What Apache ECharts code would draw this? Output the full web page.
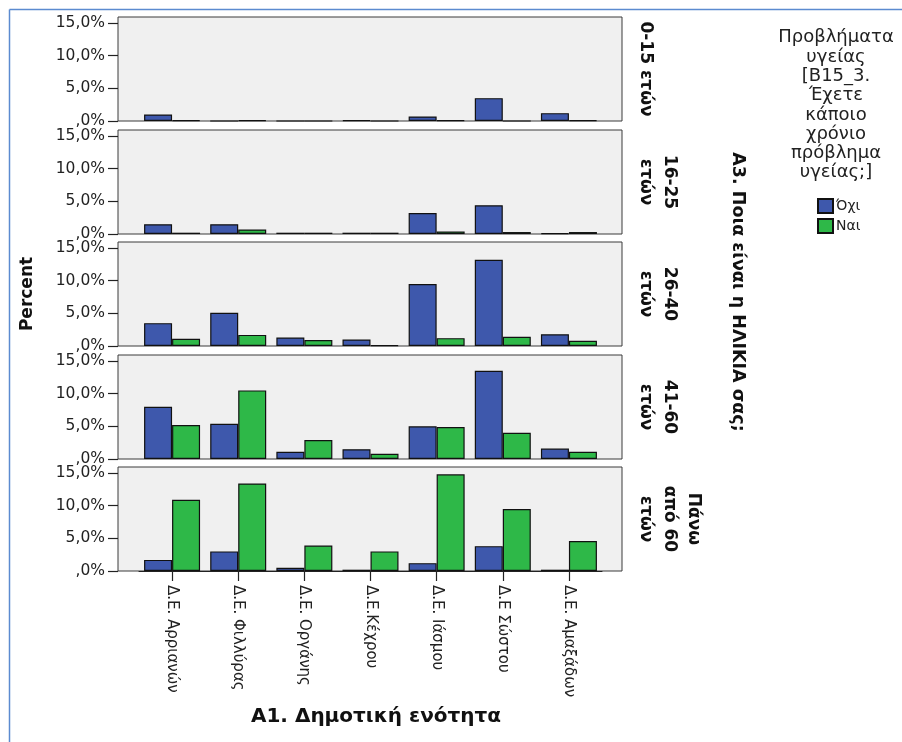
<!DOCTYPE html>
<html>
<head>
<meta charset="utf-8">
<script src="https://cdn.jsdelivr.net/npm/echarts@6/dist/echarts.min.js"></script>
<style>
  html, body { margin: 0; padding: 0; background: #fff; }
  #chart { width: 902px; height: 742px; }
</style>
</head>
<body>
<div id="chart"></div>
<script>
// ---- data ----
const categories = ['Δ.Ε. Αρριανών', 'Δ.Ε. Φιλλύρας', 'Δ.Ε. Οργάνης', 'Δ.Ε.Κέχρου', 'Δ.Ε. Ιάσμου', 'Δ.Ε Σώστου', 'Δ.Ε. Αμαξάδων'];
const ageGroups = ['0-15 ετών', '16-25\nετών', '26-40\nετών', '41-60\nετών', 'Πάνω\nαπό 60\nετών'];
const seriesNames = ['Όχι', 'Ναι'];
const yMin = 0, yMaxTick = 15, yStep = 5;

const no_0_15  = [1.0, 0.0, 0.0, 0.1, 0.7, 3.5, 1.2];
const yes_0_15 = [0.1, 0.1, 0.0, 0.0, 0.1, 0.0, 0.1];
const no_16_25  = [1.5, 1.5, 0.2, 0.2, 3.2, 4.4, 0.1];
const yes_16_25 = [0.2, 0.7, 0.2, 0.2, 0.4, 0.3, 0.3];
const no_26_40  = [3.5, 5.1, 1.3, 1.0, 9.5, 13.2, 1.8];
const yes_26_40 = [1.1, 1.7, 0.9, 0.1, 1.2, 1.4, 0.8];
const no_41_60  = [8.0, 5.4, 1.1, 1.5, 5.0, 13.5, 1.6];
const yes_41_60 = [5.2, 10.5, 2.9, 0.8, 4.9, 4.0, 1.1];
const no_60p  = [1.7, 3.0, 0.5, 0.2, 1.2, 3.8, 0.2];
const yes_60p = [10.9, 13.4, 3.9, 3.0, 14.8, 9.5, 4.6];

const panelNo  = [no_0_15, no_16_25, no_26_40, no_41_60, no_60p];
const panelYes = [yes_0_15, yes_16_25, yes_26_40, yes_41_60, yes_60p];

// ---- layout ----
const FONT = 'DejaVu Sans';
const tops = [17, 130, 242, 355, 467];
const PH = 104;          // panel (frame) height
const headroom = 6;      // space between 15% and panel top
const bgLeft = 118, bgWidth = 504;
const barLeft = 139, barWidth = 463;
const colors = ['#3e58ac', '#2eb848'];

const grids = [], xAxes = [], yAxes = [], series = [], graphics = [];

tops.forEach((top, i) => {
  grids.push({ left: bgLeft, width: bgWidth, top: top, height: PH, show: true,
               backgroundColor: '#f0f0f0', borderColor: '#3a3a3a', borderWidth: 1 });
  grids.push({ left: barLeft, width: barWidth, top: top + headroom, height: PH - headroom });
  const gi = 2 * i + 1;
  const last = i === tops.length - 1;
  xAxes.push({
    type: 'category', gridIndex: gi, data: categories, boundaryGap: true,
    axisLine: { show: last, lineStyle: { color: '#222', width: 1 } },
    axisTick: { show: last, alignWithLabel: true, length: 10, lineStyle: { color: '#222', width: 1.2 } },
    axisLabel: { show: last, rotate: -90, margin: 14, fontFamily: FONT, fontSize: 15, color: '#222' }
  });
  yAxes.push({
    type: 'value', gridIndex: gi, min: yMin, max: yMaxTick, interval: yStep, offset: barLeft - bgLeft,
    axisLine: { show: false },
    splitLine: { show: false },
    axisTick: { show: true, length: 10, lineStyle: { color: '#222', width: 1.2 } },
    axisLabel: { margin: 13, fontFamily: FONT, fontSize: 15.5, color: '#222',
                 formatter: v => v === 0 ? ',0%' : v.toFixed(1).replace('.', ',') + '%' }
  });
  [panelNo[i], panelYes[i]].forEach((arr, k) => {
    series.push({
      type: 'bar', name: seriesNames[k], xAxisIndex: i, yAxisIndex: i,
      data: arr, barWidth: 28, barGap: '0%',
      itemStyle: { color: colors[k], borderColor: '#111', borderWidth: 1.2 }
    });
  });
  graphics.push({
    type: 'text', x: 633, y: top + PH / 2, rotation: -Math.PI / 2,
    style: { text: ageGroups[i], font: 'bold 17px "DejaVu Sans"', fill: '#111',
             align: 'center', verticalAlign: 'bottom', lineHeight: 24 }
  });
});

// outer frame
graphics.push({ type: 'line', shape: { x1: 9.5, y1: 9.5, x2: 902, y2: 9.5 }, style: { stroke: '#5b8bd0', lineWidth: 1.5 } });
graphics.push({ type: 'line', shape: { x1: 9.5, y1: 9.5, x2: 9.5, y2: 742 }, style: { stroke: '#5b8bd0', lineWidth: 1.5 } });
// axis titles
graphics.push({ type: 'text', x: 28, y: 294, rotation: Math.PI / 2,
  style: { text: 'Percent', font: 'bold 17px "DejaVu Sans"', fill: '#111', align: 'center', verticalAlign: 'middle' } });
graphics.push({ type: 'text', x: 376, y: 717,
  style: { text: 'A1. Δημοτική ενότητα', font: 'bold 20px "DejaVu Sans"', fill: '#111', align: 'center', verticalAlign: 'middle' } });
graphics.push({ type: 'text', x: 738, y: 292, rotation: -Math.PI / 2,
  style: { text: 'A3. Ποια είναι η ΗΛΙΚΙΑ σας;', font: 'bold 17.5px "DejaVu Sans"', fill: '#111', align: 'center', verticalAlign: 'middle' } });
// legend title
graphics.push({ type: 'text', x: 836, y: 28,
  style: { text: 'Προβλήματα\nυγείας\n[B15_3.\nΈχετε\nκάποιο\nχρόνιο\nπρόβλημα\nυγείας;]',
           font: '18px "DejaVu Sans"', fill: '#222', align: 'center', verticalAlign: 'top', lineHeight: 19.3 } });

const chart = echarts.init(document.getElementById('chart'), null, { renderer: 'canvas' });
chart.setOption({
  animation: false,
  backgroundColor: '#fff',
  grid: grids,
  xAxis: xAxes,
  yAxis: yAxes,
  series: series,
  legend: {
    data: seriesNames, orient: 'vertical', left: 812, top: 193,
    itemWidth: 15, itemHeight: 14, itemGap: 4, icon: 'rect',
    textStyle: { fontFamily: FONT, fontSize: 14, color: '#222', padding: [0, 0, 0, -2] }
  },
  graphic: graphics
});
</script>
</body>
</html>
